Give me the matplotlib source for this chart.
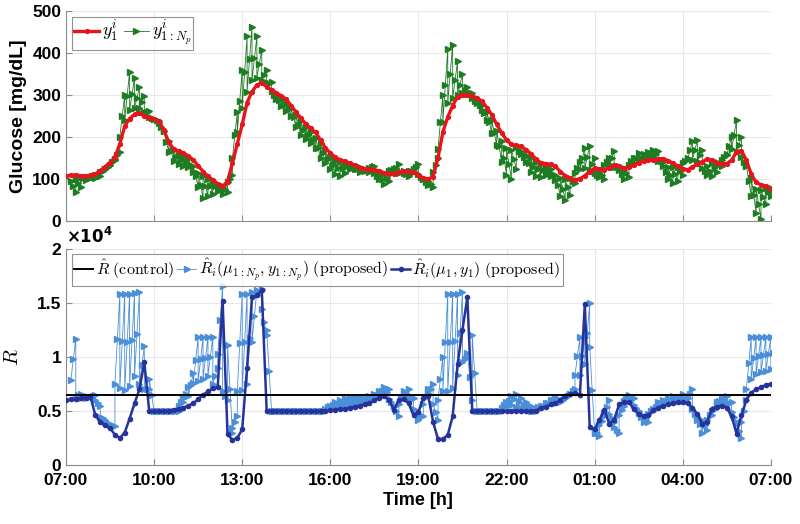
import matplotlib
matplotlib.use('Agg')
import matplotlib.pyplot as plt
import numpy as np

# samples every 10 min from 07:00 to 07:00 next day;
# predictions over a horizon of 3 steps of 5 min
DT = 1.0 / 6.0
PRED_DT = 1.0 / 12.0
N_P = 3

tick_hours = [0, 3, 6, 9, 12, 15, 18, 21, 24]
tick_labels = ['07:00', '10:00', '13:00', '16:00', '19:00', '22:00', '01:00', '04:00', '07:00']

# measured glucose y_1 [mg/dL]
glucose = [
    108, 109, 110, 108, 107, 109, 112, 120, 129, 139, 152, 184,
    226, 244, 254, 258, 250, 246, 242, 238, 216, 188, 171, 167,
    162, 155, 146, 132, 118, 107, 98, 89, 83, 94, 138, 184,
    230, 282, 308, 324, 329, 320, 312, 305, 298, 290, 275, 259,
    245, 231, 221, 211, 193, 174, 162, 152, 146, 142, 138, 133,
    127, 124, 123, 122, 120, 115, 111, 113, 117, 119, 118, 117,
    109, 103, 100, 106, 150, 212, 248, 275, 296, 300, 301, 298,
    293, 285, 270, 253, 230, 210, 193, 183, 180, 178, 170, 160,
    148, 139, 137, 135, 130, 118, 108, 102, 98, 101, 108, 118,
    126, 124, 122, 127, 133, 131, 127, 128, 133, 139, 143, 145,
    146, 148, 149, 144, 138, 131, 125, 122, 129, 135, 141, 148,
    145, 138, 136, 137, 145, 165, 168, 145, 112, 92, 87, 83,
    76]

# predicted glucose at the end of the horizon (y_{Np}) for each sample
glucose_pred_end = [
    70, 82, 98, 102, 103, 108, 124, 134, 146, 165, 300, 356,
    340, 318, 298, 262, 244, 238, 215, 165, 142, 135, 132, 128,
    118, 82, 55, 60, 65, 72, 65, 70, 110, 260, 360, 440,
    463, 440, 408, 360, 330, 290, 275, 262, 250, 225, 205, 195,
    185, 175, 150, 138, 125, 112, 108, 115, 125, 125, 118, 120,
    118, 132, 100, 88, 95, 125, 135, 120, 108, 118, 135, 100,
    85, 82, 150, 300, 410, 420, 380, 350, 320, 305, 280, 265,
    240, 210, 180, 140, 110, 100, 125, 160, 140, 118, 108, 105,
    110, 108, 98, 60, 50, 62, 90, 140, 175, 178, 150, 105,
    100, 150, 166, 130, 100, 105, 150, 162, 160, 165, 170, 168,
    140, 100, 90, 95, 110, 150, 190, 193, 170, 110, 108, 118,
    130, 160, 200, 240, 200, 130, 60, 20, 5, 40, 60, 70,
    70]

# R estimates, in units of 1e4
r_control = 0.652
r_single = [
    .60, .61, .61, .62, .62, .63, .46, .40, .37, .34, .28, .25,
    .30, .43, .57, .70, .95, .50, .50, .50, .50, .50, .51, .52,
    .53, .55, .57, .61, .65, .68, .71, .72, 1.52, .29, .23, .25,
    .33, .90, 1.55, 1.57, 1.62, .50, .50, .50, .50, .50, .50, .50,
    .50, .50, .50, .50, .50, .50, .505, .51, .515, .52, .53, .54,
    .55, .56, .57, .60, .62, .64, .60, .51, .60, .61, .57, .46,
    .49, .62, .64, .40, .24, .24, .28, .45, .93, 1.25, 1.55, .50,
    .50, .50, .50, .50, .50, .50, .50, .50, .50, .50, .50, .50,
    .50, .53, .54, .56, .57, .60, .64, .66, .665, .65, 1.49, .35,
    .33, .42, .51, .38, .42, .56, .58, .58, .52, .47, .45, .46,
    .51, .53, .55, .56, .57, .58, .58, .57, .53, .47, .38, .40,
    .52, .54, .55, .53, .45, .29, .46, .60, .67, .70, .72, .74,
    .75]

r_multi_end = [
    1.17, .66, .64, .63, .65, .55, .42, .38, .36, 1.58, 1.58, 1.58,
    1.59, 1.60, 1.10, .70, .50, .50, .50, .50, .50, .50, .62, .72,
    .85, 1.18, 1.18, 1.18, 1.18, .90, 1.66, .60, .30, .45, 1.58, 1.58,
    1.60, 1.62, 1.63, 1.20, .50, .50, .50, .50, .50, .50, .50, .50,
    .50, .50, .50, .50, .55, .58, .60, .62, .63, .63, .63, .62,
    .64, .66, .68, .72, .70, .55, .45, .68, .70, .62, .42, .45,
    .70, .75, .42, 1.00, 1.58, 1.58, 1.58, 1.60, 1.00, .60, .50, .50,
    .50, .50, .50, .50, .58, .64, .66, .62, .58, .55, .50, .55,
    .57, .60, .63, .60, .62, .66, .70, 1.18, 1.18, 1.50, .30, .27,
    .45, .60, .40, .30, .55, .65, .62, .50, .40, .40, .52, .58,
    .60, .62, .64, .62, .66, .62, .70, .42, .30, .32, .50, .58,
    .63, .64, .58, .40, .25, .60, 1.18, 1.18, 1.18, 1.18, 1.18, 1.18,
    1.18]

t = np.arange(len(glucose)) * DT


def fan(base, ends):
    # one prediction trajectory per sample, all joined into a single line
    xs, ys = [], []
    for i in range(len(base)):
        for k in range(1, N_P + 1):
            xs.append(t[i] + DT + (k - 1) * PRED_DT)
            ys.append(base[i] + (ends[i] - base[i]) * k / N_P)
    return xs, ys


plt.rcParams['mathtext.fontset'] = 'cm'
plt.rcParams['font.family'] = ['Liberation Sans Narrow', 'Liberation Sans', 'DejaVu Sans']
plt.rcParams['font.weight'] = 'bold'

RED = '#e8141c'
GREEN = '#1e7d23'
LBLUE = '#4a8fd8'
DBLUE = '#26339c'
SPINE = '#8c8c8c'


def style(ax):
    ax.grid(True, color='#e8e8e8', lw=0.8)
    ax.set_axisbelow(True)
    for s in ['top', 'right']:
        ax.spines[s].set_visible(False)
    for s in ['left', 'bottom']:
        ax.spines[s].set_color(SPINE)
    ax.tick_params(direction='in', length=4, color=SPINE, labelsize=12.5)
    ax.tick_params(axis='x', pad=6)
    ax.set_xlim(0, 24)
    ax.set_xticks(tick_hours)


fig = plt.figure(figsize=(8.0, 5.24), dpi=100)
ax1 = fig.add_axes([0.0825, 0.578, 0.881, 0.401])
ax2 = fig.add_axes([0.0825, 0.1126, 0.881, 0.4126])

# top: glucose
gx, gy = fan(glucose, glucose_pred_end)
ax1.plot(gx, gy, '-', color=GREEN, lw=0.6, marker='>', ms=4.5, mec=GREEN, mfc=GREEN, zorder=2,
         label=r'$y^i_{1:N_p}$')
ax1.plot(t, glucose, '-', color=RED, lw=2.4, marker='.', ms=5.5, zorder=3, label=r'$y^i_1$')
style(ax1)
ax1.set_ylim(0, 500)
ax1.set_yticks([0, 100, 200, 300, 400, 500])
ax1.set_xticklabels([])
ax1.set_ylabel('Glucose [mg/dL]', fontsize=14, fontweight='bold', labelpad=4)
h, l = ax1.get_legend_handles_labels()
lg1 = ax1.legend(h[::-1], l[::-1], loc='upper left', ncol=2, fontsize=13, frameon=True,
                 fancybox=False, edgecolor='#777777', handlelength=1.4, handletextpad=0.15,
                 columnspacing=0.3, borderpad=0.1, borderaxespad=0.35)
lg1.get_frame().set_linewidth(0.8)

# bottom: R estimates
rx, ry = fan(r_single, r_multi_end)
ax2.plot(t, [r_control] * len(t), '-', color='black', lw=1.4, zorder=4,
         label=r'$\hat{R}\ \mathrm{(control)}$')
ax2.plot(rx, ry, '-', color=LBLUE, lw=0.6, marker='>', ms=4.5, mec=LBLUE, mfc=LBLUE, zorder=2,
         label=r'$\hat{R}_i(\mu_{1:N_p},y_{1:N_p})\ \mathrm{(proposed)}$')
ax2.plot(t, r_single, '-', color=DBLUE, lw=1.8, marker='.', ms=6, zorder=3,
         label=r'$\hat{R}_i(\mu_1,y_1)\ \mathrm{(proposed)}$')
style(ax2)
ax2.set_ylim(0, 2)
ax2.set_yticks([0, 0.5, 1, 1.5, 2])
ax2.set_yticklabels(['0', '0.5', '1', '1.5', '2'])
ax2.set_xticklabels(tick_labels)
ax2.set_xlabel('Time [h]', fontsize=13, fontweight='bold', labelpad=3)
ax2.set_ylabel(r'$\hat{R}$', fontsize=15, labelpad=10)
ax2.text(0.0, 1.015, r'$\times\mathbf{10^4}$', transform=ax2.transAxes, fontsize=12,
         math_fontfamily='dejavusans', ha='left', va='bottom')
lg2 = ax2.legend(loc='upper left', ncol=3, fontsize=11.5, frameon=True, fancybox=False,
                 edgecolor='#777777', handlelength=1.2, handletextpad=0.15, columnspacing=0.2,
                 borderpad=0.15, borderaxespad=0.35)
lg2.get_frame().set_linewidth(0.8)

fig.savefig('out.png', dpi=100)
